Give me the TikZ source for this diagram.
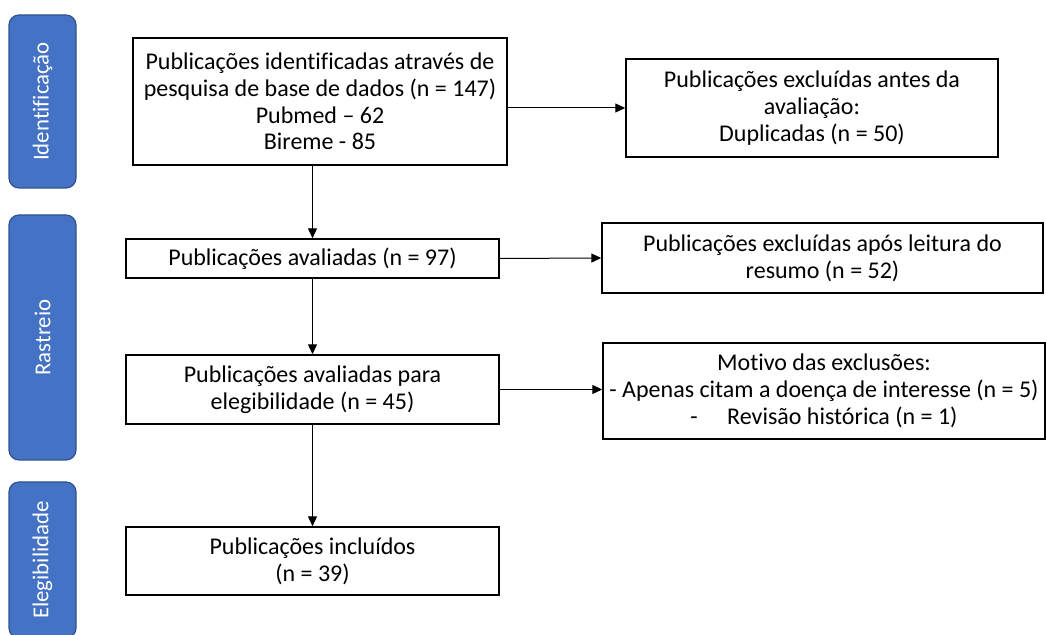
\documentclass[tikz,border=0pt]{standalone}
\usepackage{fontspec}
\setmainfont[Ligatures={TeX,NoCommon}]{Carlito}
\usetikzlibrary{arrows.meta}
\definecolor{stageblue}{HTML}{4472C4}
\definecolor{stageline}{HTML}{2F528F}
\begin{document}
\begin{tikzpicture}[x=0.5pt,y=-0.5pt,
  font=\fontsize{12}{13.4}\selectfont,
  stage/.style={draw=stageline,fill=stageblue,line width=0.6pt,
    rounded corners=5pt,rotate=90,minimum height=33.5pt,
    inner sep=0pt,text=white,font=\fontsize{11.4}{13}\selectfont},
  flowbox/.style={draw,line width=0.7pt,align=center,inner sep=0pt},
  arr/.style={line width=0.5pt,-{Triangle[length=5pt,width=4.5pt]}}]
  \useasboundingbox (0,0) rectangle (1046,635);
  \clip (0,0) rectangle (1046,635);
  % stages
  \path (42.5,101.5) node[stage,minimum width=86.5pt] (idbar) {Identificação};
  \path (42.5,337.5) node[stage,minimum width=122.5pt] (rasbar) {Rastreio};
  \path (42.5,560) node[stage,minimum width=78pt] (elebar) {Elegibilidade};
  % main column
  \path (320,101.5) node[flowbox,minimum width=187pt,minimum height=63.5pt] (ident)
    {Publicações identificadas através de\\pesquisa de base de dados (n = 147)\\Pubmed – 62\\Bireme - 85};
  \path (312.5,258.5) node[flowbox,minimum width=186.5pt,minimum height=19.5pt] (aval)
    {Publicações avaliadas (n = 97)};
  \path (312.5,389.5) node[flowbox,minimum width=186.5pt,minimum height=34.5pt] (eleg)
    {Publicações avaliadas para\\elegibilidade (n = 45)};
  \path (312.5,561) node[flowbox,minimum width=186.5pt,minimum height=34pt] (incl)
    {Publicações incluídos\\(n = 39)};
  % exclusions
  \path (812,108) node[flowbox,minimum width=186pt,minimum height=49pt] (excl1)
    {Publicações excluídas antes da\\avaliação:\\Duplicadas (n = 50)};
  \path (822.5,258) node[flowbox,minimum width=220.5pt,minimum height=35pt] (excl2)
    {Publicações excluídas após leitura do\\resumo (n = 52)};
  \path (824,391) node[flowbox,minimum width=221pt,minimum height=48pt] (motivo)
    {Motivo das exclusões:\\- Apenas citam a doença de interesse (n = 5)\\-\quad\ Revisão histórica (n = 1)};
  % arrows
  \draw[arr] (ident.south -| aval.north) -- (aval.north);
  \draw[arr] (aval) -- (eleg);
  \draw[arr] (eleg) -- (incl);
  \draw[arr] (ident.east |- excl1.west) -- (excl1.west);
  \draw[arr] (aval.east) -- (excl2.west);
  \draw[arr] (eleg.east) -- (motivo.west |- eleg.east);
\end{tikzpicture}
\end{document}
